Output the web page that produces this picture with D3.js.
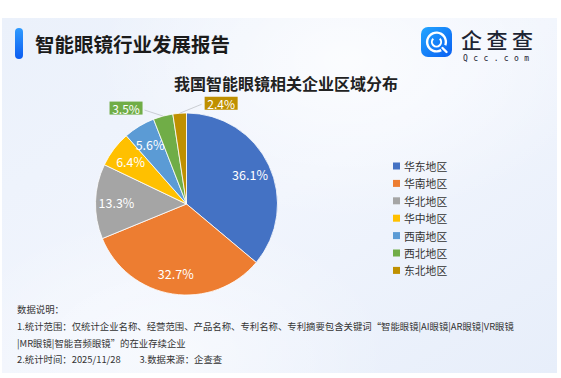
<!DOCTYPE html>
<html>
<head>
<meta charset="utf-8">
<script src="https://cdn.jsdelivr.net/npm/d3@7"></script>
<style>
html,body{margin:0;padding:0;background:#fff;}
svg{display:block;font-family:"Noto Sans CJK SC","Noto Sans",sans-serif;}
</style>
</head>
<body>
<svg id="chart" width="561" height="378"></svg>
<script>
// ---- data ----
const categories = ["华东地区","华南地区","华北地区","华中地区","西南地区","西北地区","东北地区"];
const shares = [36.1, 32.7, 13.3, 6.4, 5.6, 3.5, 2.4];
const colors = ["#4472C4","#ED7D31","#A5A5A5","#FFC000","#5B9BD5","#70AD47","#BF9000"];
const headerTitle = "智能眼镜行业发展报告";
const chartTitle = "我国智能眼镜相关企业区域分布";
const notes = [
  "数据说明：",
  "1.统计范围：仅统计企业名称、经营范围、产品名称、专利名称、专利摘要包含关键词“智能眼镜|AI眼镜|AR眼镜|VR眼镜",
  "|MR眼镜|智能音频眼镜”的在业存续企业",
  "2.统计时间：2025/11/28　　3.数据来源：企查查"
];

const svg = d3.select("#chart");
const defs = svg.append("defs");

// background card
const bg = defs.append("linearGradient").attr("id","bg").attr("x1","0").attr("y1","0").attr("x2","1").attr("y2","1");
bg.append("stop").attr("offset","0").attr("stop-color","#ebf1fb");
bg.append("stop").attr("offset","0.5").attr("stop-color","#f1f5fd");
bg.append("stop").attr("offset","1").attr("stop-color","#e7eefa");
const glow = defs.append("radialGradient").attr("id","glow").attr("cx","0.62").attr("cy","0.12").attr("r","0.45");
glow.append("stop").attr("offset","0").attr("stop-color","#ffffff").attr("stop-opacity",0.75);
glow.append("stop").attr("offset","1").attr("stop-color","#ffffff").attr("stop-opacity",0);
const glow2 = defs.append("radialGradient").attr("id","glow2").attr("cx","0.3").attr("cy","0.95").attr("r","0.4");
glow2.append("stop").attr("offset","0").attr("stop-color","#ffffff").attr("stop-opacity",0.55);
glow2.append("stop").attr("offset","1").attr("stop-color","#ffffff").attr("stop-opacity",0);

svg.append("rect").attr("x",2).attr("y",18).attr("width",555).attr("height",355).attr("fill","url(#bg)");
svg.append("rect").attr("x",2).attr("y",18).attr("width",555).attr("height",355).attr("fill","url(#glow)");
svg.append("rect").attr("x",2).attr("y",18).attr("width",555).attr("height",355).attr("fill","url(#glow2)");

// header
const barG = defs.append("linearGradient").attr("id","barG").attr("x1","0").attr("y1","0").attr("x2","0").attr("y2","1");
barG.append("stop").attr("offset","0").attr("stop-color","#2f9bff");
barG.append("stop").attr("offset","1").attr("stop-color","#0b5cf0");
svg.append("rect").attr("x",15).attr("y",28).attr("width",8).attr("height",31).attr("rx",4).attr("fill","url(#barG)");
svg.append("text").attr("x",35).attr("y",43.5).attr("dominant-baseline","central")
  .attr("font-size",19.5).attr("font-weight",700).attr("fill","#1b1b1b").text(headerTitle);

// logo
const logoG = defs.append("linearGradient").attr("id","logoG").attr("x1","0").attr("y1","0").attr("x2","1").attr("y2","1");
logoG.append("stop").attr("offset","0").attr("stop-color","#22a6ff");
logoG.append("stop").attr("offset","1").attr("stop-color","#0a5ff2");
const logo = svg.append("g").attr("transform","translate(421,27)");
logo.append("rect").attr("width",31).attr("height",30).attr("rx",7).attr("fill","url(#logoG)");
logo.append("path").attr("d", d3.arc()({innerRadius:8.2,outerRadius:10.6,startAngle:0,endAngle:Math.PI*1.78}))
  .attr("transform","translate(15.5,15) rotate(150)").attr("fill","#fff");
logo.append("path").attr("d","M21.5,21 L25.5,25").attr("stroke","#fff").attr("stroke-width",2.4).attr("stroke-linecap","round");
logo.append("path").attr("d", d3.arc()({innerRadius:3.6,outerRadius:5.6,startAngle:Math.PI*0.25,endAngle:Math.PI*1.75}))
  .attr("transform","translate(15.5,15)").attr("fill","#fff");
svg.append("text").attr("x",461).attr("y",38.5).attr("dominant-baseline","central")
  .attr("font-size",21).attr("letter-spacing",4.5).attr("font-weight",500).attr("fill","#1d2433").text("企查查");
svg.append("text").attr("x",463).attr("y",58).attr("dominant-baseline","central")
  .attr("font-size",8).attr("font-family","DejaVu Sans Mono, monospace").attr("fill","#1d2433").attr("letter-spacing",5.4).text("Qcc.com");

// chart title
svg.append("text").attr("x",286).attr("y",83).attr("text-anchor","middle").attr("dominant-baseline","central")
  .attr("font-size",16).attr("font-weight",700).attr("fill","#222").text(chartTitle);

// pie
const cx = 186.5, cy = 204, R = 91;
const data = categories.map((c,i)=>({cat:c, value:shares[i], color:colors[i]}));
const pie = d3.pie().value(d=>d.value).sort(null);
const arcs = pie(data);
const arc = d3.arc().innerRadius(0).outerRadius(R);
const labelArc = d3.arc().innerRadius(R*0.77).outerRadius(R*0.77);
const g = svg.append("g").attr("transform",`translate(${cx},${cy})`);
g.selectAll("path.slice").data(arcs).join("path").attr("class","slice")
  .attr("d",arc).attr("fill",d=>d.data.color).attr("stroke","#fff").attr("stroke-width",0.8);

const fmt = v => v.toFixed(1) + "%";
const inside = arcs.filter(d=>d.data.value >= 5);
const outside = arcs.filter(d=>d.data.value < 5);
g.selectAll("text.in").data(inside).join("text").attr("class","in")
  .attr("transform",d=>`translate(${labelArc.centroid(d)})`)
  .attr("text-anchor","middle").attr("dominant-baseline","central")
  .attr("font-size",12.5).attr("fill","#fff").text(d=>fmt(d.data.value));

// outside labels (small slices): leader line + filled box
const outLayout = {"西北地区":{dx:-37,dy:-8}, "东北地区":{dx:41.5,dy:-10}};
outside.forEach(d=>{
  const a = (d.startAngle+d.endAngle)/2;
  const ex = Math.sin(a)*R, ey = -Math.cos(a)*R;
  const o = outLayout[d.data.cat];
  const bx = ex + o.dx, by = ey + o.dy;
  const bw = 33, bh = 13;
  const lineEnd = o.dx < 0 ? bx + bw/2 + 2 : bx - bw/2 - 3;
  g.append("line").attr("x1",ex).attr("y1",ey).attr("x2",lineEnd).attr("y2",by + (o.dx<0?2:1))
    .attr("stroke","#bfc3c8").attr("stroke-width",0.8);
  g.append("rect").attr("x",bx-bw/2).attr("y",by-bh/2).attr("width",bw).attr("height",bh).attr("fill",d.data.color);
  g.append("text").attr("x",bx).attr("y",by).attr("text-anchor","middle").attr("dominant-baseline","central")
    .attr("font-size",12).attr("fill","#fff").text(fmt(d.data.value));
});

// legend
const legend = svg.append("g").attr("transform","translate(393,166)");
const li = legend.selectAll("g").data(data).join("g").attr("transform",(d,i)=>`translate(0,${i*17.4})`);
li.append("rect").attr("x",0).attr("y",-3.5).attr("width",7).attr("height",7).attr("fill",d=>d.color);
li.append("text").attr("x",11).attr("y",0).attr("dominant-baseline","central")
  .attr("font-size",10.8).attr("fill","#333").text(d=>d.cat);

// notes
svg.selectAll("text.note").data(notes).join("text").attr("class","note")
  .attr("x",17).attr("y",(d,i)=>309 + i*16.8).attr("dominant-baseline","central")
  .attr("font-size",9.4).attr("fill","#333").text(d=>d);
</script>
</body>
</html>
